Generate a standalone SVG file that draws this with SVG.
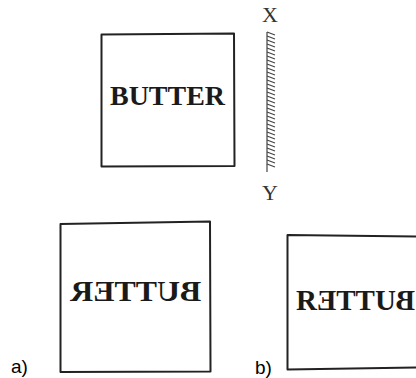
<svg xmlns="http://www.w3.org/2000/svg" width="416" height="378" viewBox="0 0 416 378">
  <style>
    .box { fill: #ffffff; stroke: #222222; stroke-width: 2; stroke-linejoin: round; }
    .word { font-family: "Liberation Serif", "Times New Roman", serif; font-weight: bold; fill: #1a1a1a; }
    .axis { font-family: "Liberation Serif", "Times New Roman", serif; font-size: 22px; fill: #333333; }
    .lbl { font-family: "Liberation Sans", Arial, sans-serif; font-size: 19px; fill: #000000; }
    .hatch { stroke: #444444; stroke-width: 1.2; fill: none; }
  </style>
  <rect width="416" height="378" fill="#ffffff"/>

  <g id="box-original">
    <path class="box" d="M101.5,34.5 L234,33.5 L234.5,166 L101.5,166.5 Z"/>
    <text class="word" x="167.5" y="105" font-size="27.5" text-anchor="middle" textLength="115" lengthAdjust="spacingAndGlyphs">BUTTER</text>
  </g>

  <g id="mirror">
    <text class="axis" x="270" y="22" text-anchor="middle">X</text>
    <line class="hatch" x1="267" y1="32" x2="267" y2="172" stroke-width="1.5"/>
    <path class="hatch" d="M267,32 l8,3 M267,36 l8,3 M267,40 l8,3 M267,44 l8,3 M267,48 l8,3 M267,52 l8,3 M267,56 l8,3 M267,60 l8,3 M267,64 l8,3 M267,68 l8,3 M267,72 l8,3 M267,76 l8,3 M267,80 l8,3 M267,84 l8,3 M267,88 l8,3 M267,92 l8,3 M267,96 l8,3 M267,100 l8,3 M267,104 l8,3 M267,108 l8,3 M267,112 l8,3 M267,116 l8,3 M267,120 l8,3 M267,124 l8,3 M267,128 l8,3 M267,132 l8,3 M267,136 l8,3 M267,140 l8,3 M267,144 l8,3 M267,148 l8,3 M267,152 l8,3 M267,156 l8,3 M267,160 l8,3 M267,164 l8,3"/>
    <text class="axis" x="270" y="200" text-anchor="middle">Y</text>
  </g>

  <g id="box-a">
    <path class="box" d="M60.5,224 L210,221.5 L210.5,371.5 L60.5,372 Z"/>
    <g transform="translate(271.7,0) scale(-1,1)">
      <text class="word" x="135.85" y="301" font-size="30" text-anchor="middle" textLength="131" lengthAdjust="spacingAndGlyphs">BUTTER</text>
    </g>
  </g>

  <g id="box-b">
    <path class="box" d="M287.5,235 L420,236.5 L420,367.5 L287.5,369.5 Z"/>
    <text class="word" x="296" y="310" font-size="29">R</text>
    <g transform="translate(336.3,0) scale(-1,1)"><text class="word" x="0" y="310" font-size="29">E</text></g>
    <text class="word" x="336.3" y="310" font-size="29">T</text>
    <text class="word" x="355.6" y="310" font-size="29">T</text>
    <text class="word" x="374.9" y="310" font-size="29">U</text>
    <g transform="translate(415.1,0) scale(-1,1)"><text class="word" x="0" y="310" font-size="29">B</text></g>
  </g>

  <g id="labels">
    <text class="lbl" x="11" y="373">a)</text>
    <text class="lbl" x="255" y="374">b)</text>
  </g>
</svg>
